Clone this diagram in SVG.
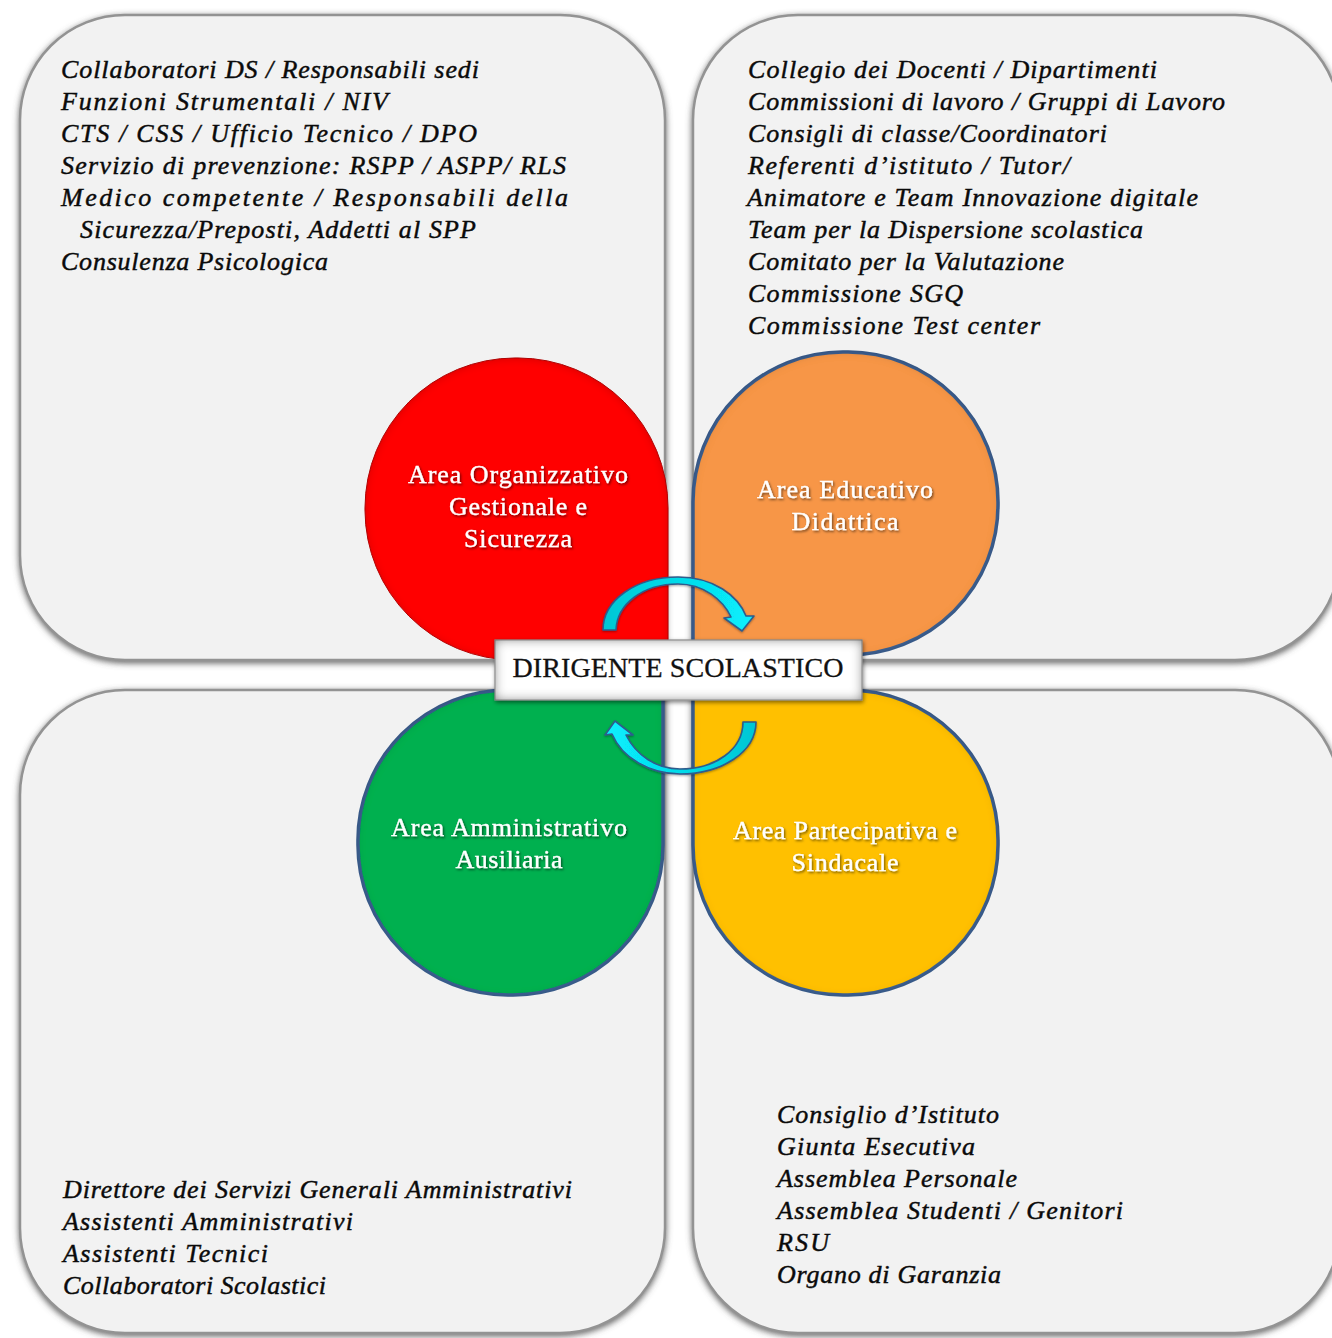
<svg xmlns="http://www.w3.org/2000/svg" width="1332" height="1338" viewBox="0 0 1332 1338">
<defs>
<style>
.panel{fill:#f2f2f2;stroke:#939393;stroke-width:2.5;filter:url(#pshadow)}
.petal{stroke:#3e6192;stroke-width:3.5;filter:url(#inset)}
.t{font-family:"Liberation Serif","Times New Roman",serif;font-style:italic;font-size:26px;fill:#0a0a0a;stroke:#0a0a0a;stroke-width:0.45}
.c{font-family:"Liberation Serif","Times New Roman",serif;font-size:26px;fill:#ffffff;stroke:#ffffff;stroke-width:0.35;text-anchor:middle;filter:url(#tshadow)}
.arrow{fill:url(#cyan);stroke:#2f5b8c;stroke-width:1.6;stroke-linejoin:round}
</style>
<filter id="pshadow" x="-5%" y="-5%" width="110%" height="110%">
<feGaussianBlur in="SourceAlpha" stdDeviation="3"/>
<feOffset dx="0" dy="2" result="b"/>
<feFlood flood-color="#555555" flood-opacity="0.9"/>
<feComposite in2="b" operator="in"/>
<feMerge><feMergeNode/><feMergeNode in="SourceGraphic"/></feMerge>
</filter>
<filter id="inset" x="-5%" y="-5%" width="110%" height="110%">
<feComponentTransfer in="SourceAlpha"><feFuncA type="table" tableValues="1 0"/></feComponentTransfer>
<feGaussianBlur stdDeviation="4"/>
<feOffset dx="0" dy="1" result="inv"/>
<feFlood flood-color="#000000" flood-opacity="0.35"/>
<feComposite in2="inv" operator="in"/>
<feComposite in2="SourceAlpha" operator="in" result="sh"/>
<feMerge><feMergeNode in="SourceGraphic"/><feMergeNode in="sh"/></feMerge>
</filter>
<filter id="boxf" x="-10%" y="-30%" width="120%" height="160%">
<feComponentTransfer in="SourceAlpha"><feFuncA type="table" tableValues="1 0"/></feComponentTransfer>
<feGaussianBlur stdDeviation="6" result="inv"/>
<feFlood flood-color="#555555" flood-opacity="1"/>
<feComposite in2="inv" operator="in"/>
<feComposite in2="SourceAlpha" operator="in" result="sh"/>
<feGaussianBlur in="SourceAlpha" stdDeviation="2"/>
<feOffset dx="1" dy="2"/>
<feComponentTransfer result="os"><feFuncA type="linear" slope="0.5"/></feComponentTransfer>
<feMerge><feMergeNode in="os"/><feMergeNode in="SourceGraphic"/><feMergeNode in="sh"/></feMerge>
</filter>
<filter id="tshadow" x="-10%" y="-30%" width="120%" height="160%">
<feDropShadow dx="1.2" dy="1.5" stdDeviation="1" flood-color="#000000" flood-opacity="0.55"/>
</filter>
<filter id="ashadow" x="-10%" y="-10%" width="120%" height="120%">
<feDropShadow dx="0" dy="1" stdDeviation="1.2" flood-color="#000000" flood-opacity="0.35"/>
</filter>
<linearGradient id="cyan" x1="0" y1="0" x2="1" y2="0">
<stop offset="0" stop-color="#00c6d4"/>
<stop offset="1" stop-color="#08f0ff"/>
</linearGradient>
<linearGradient id="cyan2" x1="1" y1="0" x2="0" y2="0">
<stop offset="0" stop-color="#00c6d4"/>
<stop offset="1" stop-color="#08f0ff"/>
</linearGradient>
</defs>
<rect x="0" y="0" width="1332" height="1338" fill="#ffffff"/>

<g id="panel-tl">
<path class="panel" d="M 665 660 H 125 A 105 105 0 0 1 20 555 V 120 A 105 105 0 0 1 125 15 H 560 A 105 105 0 0 1 665 120 Z"/>
</g>
<g id="panel-tr">
<path class="panel" d="M 693 660 V 120 A 105 105 0 0 1 798 15 H 1235 A 105 105 0 0 1 1340 120 V 555 A 105 105 0 0 1 1235 660 Z"/>
</g>
<g id="panel-bl">
<path class="panel" d="M 665 690 V 1228 A 105 105 0 0 1 560 1333 H 125 A 105 105 0 0 1 20 1228 V 795 A 105 105 0 0 1 125 690 Z"/>
</g>
<g id="panel-br">
<path class="panel" d="M 693 690 H 1235 A 105 105 0 0 1 1340 795 V 1228 A 105 105 0 0 1 1235 1333 H 798 A 105 105 0 0 1 693 1228 Z"/>
</g>

<g id="text-tl">
<text class="t" x="61" y="78" textLength="418" lengthAdjust="spacing">Collaboratori DS  / Responsabili sedi</text>
<text class="t" x="61" y="110" textLength="327" lengthAdjust="spacing">Funzioni Strumentali /  NIV</text>
<text class="t" x="61" y="142" textLength="416" lengthAdjust="spacing">CTS / CSS / Ufficio Tecnico / DPO</text>
<text class="t" x="61" y="174" textLength="505" lengthAdjust="spacing">Servizio di prevenzione: RSPP / ASPP/ RLS</text>
<text class="t" x="61" y="206" textLength="507" lengthAdjust="spacing">Medico   competente   /   Responsabili   della</text>
<text class="t" x="80" y="238" textLength="396" lengthAdjust="spacing">Sicurezza/Preposti, Addetti al SPP</text>
<text class="t" x="61" y="270" textLength="267" lengthAdjust="spacing">Consulenza Psicologica</text>
</g>

<g id="text-tr">
<text class="t" x="748" y="78" textLength="409" lengthAdjust="spacing">Collegio dei Docenti / Dipartimenti</text>
<text class="t" x="748" y="110" textLength="477" lengthAdjust="spacing">Commissioni di lavoro / Gruppi di Lavoro</text>
<text class="t" x="748" y="142" textLength="359" lengthAdjust="spacing">Consigli di classe/Coordinatori</text>
<text class="t" x="748" y="174" textLength="322" lengthAdjust="spacing">Referenti d’istituto / Tutor/</text>
<text class="t" x="747" y="206" textLength="451" lengthAdjust="spacing">Animatore e Team Innovazione digitale</text>
<text class="t" x="748" y="238" textLength="395" lengthAdjust="spacing">Team per la Dispersione scolastica</text>
<text class="t" x="748" y="270" textLength="316" lengthAdjust="spacing">Comitato per la Valutazione</text>
<text class="t" x="748" y="302" textLength="215" lengthAdjust="spacing">Commissione SGQ</text>
<text class="t" x="748" y="334" textLength="292" lengthAdjust="spacing">Commissione Test center</text>
</g>

<g id="text-bl">
<text class="t" x="63" y="1198" textLength="509" lengthAdjust="spacing">Direttore dei Servizi Generali Amministrativi</text>
<text class="t" x="63" y="1230" textLength="290" lengthAdjust="spacing">Assistenti Amministrativi</text>
<text class="t" x="63" y="1262" textLength="205" lengthAdjust="spacing">Assistenti Tecnici</text>
<text class="t" x="63" y="1294" textLength="263" lengthAdjust="spacing">Collaboratori Scolastici</text>
</g>

<g id="text-br">
<text class="t" x="777" y="1123" textLength="222" lengthAdjust="spacing">Consiglio d’Istituto</text>
<text class="t" x="777" y="1155" textLength="198" lengthAdjust="spacing">Giunta Esecutiva</text>
<text class="t" x="777" y="1187" textLength="240" lengthAdjust="spacing">Assemblea Personale</text>
<text class="t" x="777" y="1219" textLength="346" lengthAdjust="spacing">Assemblea Studenti / Genitori</text>
<text class="t" x="777" y="1251" textLength="52" lengthAdjust="spacing">RSU</text>
<text class="t" x="777" y="1283" textLength="224" lengthAdjust="spacing">Organo di Garanzia</text>
</g>

<g id="area-organizzativo">
<path class="petal" fill="#ff0000" style="stroke:#c00000;stroke-width:1" d="M 668 660 H 515 A 150 150 0 0 1 365 510 V 508 A 150 150 0 0 1 515 358 H 518 A 150 150 0 0 1 668 508 Z"/>
<text class="c" x="518" y="483" textLength="220" lengthAdjust="spacing">Area Organizzativo</text>
<text class="c" x="518" y="515" textLength="138" lengthAdjust="spacing">Gestionale e</text>
<text class="c" x="518" y="547" textLength="108" lengthAdjust="spacing">Sicurezza</text>
</g>
<g id="area-educativo">
<path class="petal" fill="#f79646" d="M 693 655 V 502 A 150 150 0 0 1 843 352 H 848 A 150 150 0 0 1 998 502 V 505 A 150 150 0 0 1 848 655 Z"/>
<text class="c" x="845" y="498" textLength="176" lengthAdjust="spacing">Area Educativo</text>
<text class="c" x="845" y="530" textLength="107" lengthAdjust="spacing">Didattica</text>
</g>
<g id="area-amministrativo">
<path class="petal" fill="#00b050" d="M 663 690 V 845 A 150 150 0 0 1 513 995 H 508 A 150 150 0 0 1 358 845 V 840 A 150 150 0 0 1 508 690 Z"/>
<text class="c" x="509" y="836" textLength="236" lengthAdjust="spacing">Area Amministrativo</text>
<text class="c" x="509" y="868" textLength="107" lengthAdjust="spacing">Ausiliaria</text>
</g>
<g id="area-partecipativa">
<path class="petal" fill="#ffc000" d="M 693 690 H 848 A 150 150 0 0 1 998 840 V 845 A 150 150 0 0 1 848 995 H 843 A 150 150 0 0 1 693 845 Z"/>
<text class="c" x="845" y="839" textLength="224" lengthAdjust="spacing">Area Partecipativa e</text>
<text class="c" x="845" y="871" textLength="107" lengthAdjust="spacing">Sindacale</text>
</g>

<g id="connectors" filter="url(#ashadow)">
<path class="arrow" d="M 603 630 C 603 600 636 577 678 577 C 714 577 738 596 746 616 L 754 616 L 742 631 L 724 618 L 731 617 C 723 600 704 584 678 584 C 643 584 617 604 616 630 Z"/>
<path class="arrow" style="fill:url(#cyan2)" d="M 756 722 C 756 752 722 774 680 774 C 650 774 622 758 612 734 L 605 735 L 615 721 L 633 735 L 626 735 C 636 755 656 769 680 769 C 715 769 743 750 743 722 Z"/>
</g>

<g id="dirigente">
<rect x="495" y="640" width="367" height="60" fill="#ffffff" stroke="#a6a6a6" stroke-width="1" filter="url(#boxf)"/>
<text x="678" y="677" text-anchor="middle" textLength="331" lengthAdjust="spacing" style="font-family:'Liberation Serif','Times New Roman',serif;font-size:28px;fill:#111111;stroke:#111111;stroke-width:0.3">DIRIGENTE SCOLASTICO</text>
</g>
</svg>
